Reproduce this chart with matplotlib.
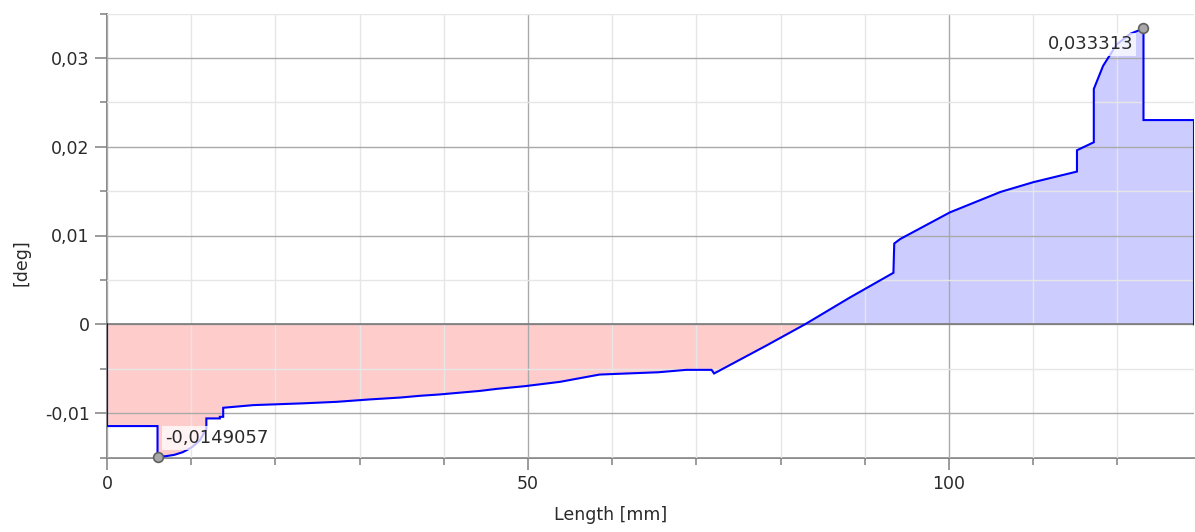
import matplotlib
matplotlib.use("Agg")
import matplotlib.pyplot as plt
from matplotlib.ticker import MultipleLocator, FuncFormatter
import numpy as np

# rotation along the shaft
length_mm = [0, 0, 6.0, 6.0, 7.0, 8.0, 9.0, 10.0, 11.0, 11.8, 11.8, 13.4, 13.4, 13.8, 13.8,
             17.4, 23.3, 27.3, 31.2, 34.8, 37.2, 39.5, 41.9, 44.3, 46.3, 49.6, 53.8, 57.0,
             58.5, 61.7, 65.5, 68.8, 71.8, 72.1, 78.3, 82.9, 88.2, 93.4, 93.5, 94.2, 100.1,
             106.1, 110.0, 115.2, 115.2, 117.2, 117.2, 118.3, 119.9, 121.5, 123.1, 123.1,
             129.1, 129.1]
rotation_deg = [0, -0.01146, -0.01146, -0.0149057, -0.01485, -0.0147, -0.0144, -0.0139,
                -0.0131, -0.0118, -0.0106, -0.0106, -0.01042, -0.01042, -0.0094,
                -0.0091, -0.0089, -0.00873, -0.00846, -0.00825, -0.00805, -0.0079, -0.0077,
                -0.0075, -0.00727, -0.00697, -0.00648, -0.00592,
                -0.00566, -0.00554, -0.0054, -0.00513, -0.00513, -0.00554, -0.0024, 0.0,
                0.0030, 0.0058, 0.0091, 0.0096, 0.0126,
                0.0149, 0.0160, 0.0172, 0.0196, 0.0205, 0.0265, 0.0291, 0.0315, 0.0327,
                0.033313, 0.0230, 0.0230, 0.0]

min_pos = (6.0, -0.0149057)
max_pos = (123.1, 0.033313)
min_label = "-0,0149057"
max_label = "0,033313"


def comma_fmt(v, pos):
    if abs(v) < 1e-12:
        return "0"
    return ("%g" % round(v, 6)).replace(".", ",")


fig = plt.figure(figsize=(11.95, 5.32), dpi=100)
ax = fig.add_axes([107 / 1195, 1 - 457.5 / 532, 1087 / 1195, 444 / 532])

x = np.array(length_mm)
y = np.array(rotation_deg)

ax.fill_between(x, y, 0, where=y <= 0, interpolate=True, color="#ffcccc", lw=0, zorder=1)
ax.fill_between(x, y, 0, where=y >= 0, interpolate=True, color="#ccccff", lw=0, zorder=1)
ax.plot(x, y, color="#0000ff", lw=1.5, zorder=4, solid_joinstyle="miter")

ax.set_xlim(0, 129.1)
ax.set_ylim(-0.015, 0.035)

ax.xaxis.set_major_locator(MultipleLocator(50))
ax.xaxis.set_minor_locator(MultipleLocator(10))
ax.yaxis.set_major_locator(MultipleLocator(0.01))
ax.yaxis.set_minor_locator(MultipleLocator(0.005))
ax.xaxis.set_major_formatter(FuncFormatter(comma_fmt))
ax.yaxis.set_major_formatter(FuncFormatter(comma_fmt))

ax.grid(which="major", color="#a9a9a9", lw=1.0, zorder=2)
ax.grid(which="minor", color="#e6e6e6", lw=1.0, zorder=2)
ax.set_axisbelow(False)
ax.axhline(0, color="#7a7a7a", lw=1.2, zorder=3)

for side in ["top", "right"]:
    ax.spines[side].set_visible(False)
for side in ["left", "bottom"]:
    ax.spines[side].set_color("#808080")
    ax.spines[side].set_linewidth(1.3)

ax.tick_params(which="major", length=8.5, width=1.1, color="#808080", labelsize=12.5,
               labelcolor="#2a2a2a", pad=4)
ax.tick_params(which="minor", length=5, width=1.1, color="#808080")

# min / max markers with value labels
ax.plot(*min_pos, "o", ms=7, mfc="#a8a8a8", mec="#606060", mew=1.2, zorder=6, clip_on=False)
ax.plot(*max_pos, "o", ms=7, mfc="#a8a8a8", mec="#606060", mew=1.2, zorder=6, clip_on=False)
box = dict(boxstyle="square,pad=0.15", fc="white", ec="none", alpha=0.75)
ax.annotate(min_label, min_pos, xytext=(5.5, 13.5), textcoords="offset points",
            ha="left", va="center", fontsize=13, color="#2a2a2a", bbox=box, zorder=5)
ax.annotate(max_label, max_pos, xytext=(-7, -11.5), textcoords="offset points",
            ha="right", va="center", fontsize=13, color="#2a2a2a", bbox=box, zorder=5)

fig.text(611 / 1195, 1 - 515 / 532, "Length [mm]", ha="center", va="center",
         fontsize=12.5, color="#2a2a2a")
fig.text(22 / 1195, 1 - 263 / 532, "[deg]", ha="center", va="center", rotation=90,
         fontsize=12.5, color="#2a2a2a")

fig.savefig("out.png", dpi=100, facecolor="white")
